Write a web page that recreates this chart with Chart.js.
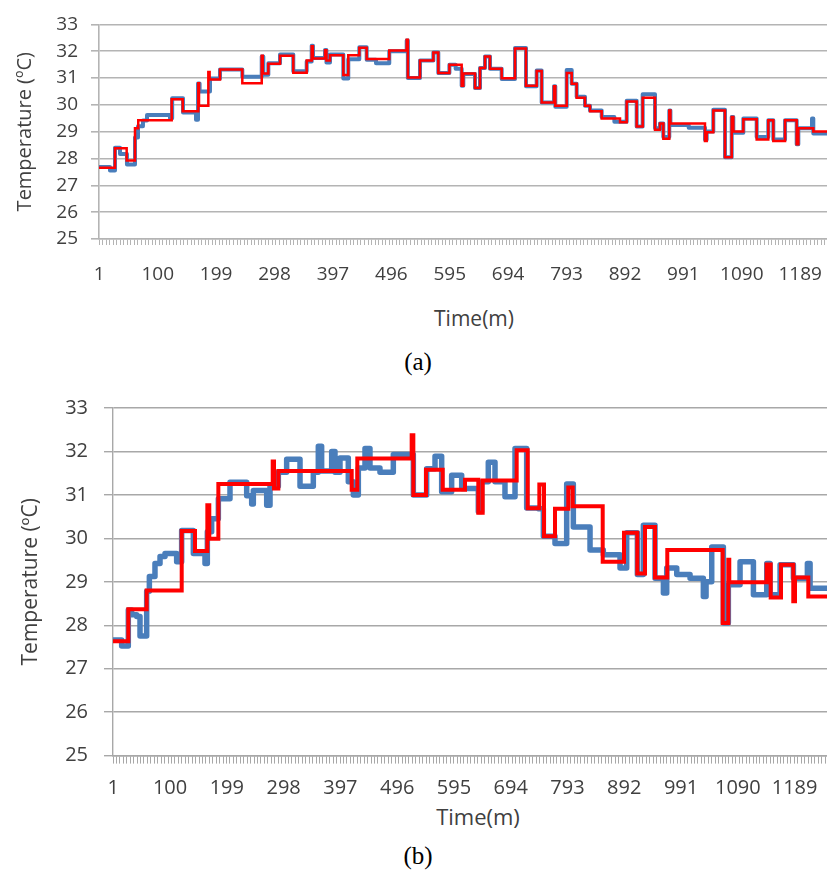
<!DOCTYPE html>
<html>
<head>
<meta charset="utf-8">
<script src="https://cdn.jsdelivr.net/npm/chart.js@4.4.1/dist/chart.umd.min.js"></script>
<style>
  html, body { margin: 0; padding: 0; background: #fff; }
  body { width: 827px; height: 872px; position: relative; overflow: hidden; }
  canvas { position: absolute; left: 0; }
  .xt { position: absolute; font-family: 'Open Sans'; color: #404040; transform: translate(-50%, -50%); white-space: nowrap; }
  .cap { position: absolute; font-family: 'Liberation Serif'; color: #000; transform: translate(-50%, -50%); }
</style>
</head>
<body>
<canvas id="chartA" width="827" height="300" style="top:0"></canvas>
<div class="xt" style="left:474px;top:318px;font-size:21px">Time(m)</div>
<div class="cap" style="left:418px;top:362px;font-size:25px">(a)</div>

<canvas id="chartB" width="827" height="420" style="top:380px"></canvas>
<div class="xt" style="left:478px;top:816px;font-size:22px">Time(m)</div>
<div class="cap" style="left:418px;top:856px;font-size:25px">(b)</div>

<script>
// ---------------------------- data (minute, °C) ----------------------------
// category labels shown on the time axis
const labelCats = [1, 100, 199, 298, 397, 496, 595, 694, 793, 892, 991, 1090, 1189]
const yMin = 25
const yMax = 33

// (a) measured (blue) and fitted step (red)
const blueA = [[0.5,27.68],[19.1,27.55],[27.6,28.4],[36.1,28.17],[47.9,27.78],[61.5,28.78],[66.6,29.2],[75,29.42],[81.9,29.62],[120.8,29.5],[124.5,30.25],[142.9,29.72],[164.9,29.45],[168.3,30.8],[171,30.5],[188.6,30.98],[205.6,31.32],[243.4,31.05],[276.3,31.8],[279,31.12],[287.5,31.55],[307.3,31.88],[329.8,31.25],[352.5,31.62],[361,32.2],[363.2,31.75],[383.6,32.05],[386,31.58],[392,31.88],[414.6,30.98],[423,31.7],[441.7,32.15],[454.2,31.68],[470,31.55],[492.5,32.0],[522,32.4],[524,31.0],[544.6,31.65],[567.2,31.95],[575.6,31.19],[594.4,31.5],[605,31.35],[615.2,30.71],[618,31.15],[637.8,30.63],[646.3,31.37],[654.7,31.8],[663.2,31.35],[683,30.96],[705.6,32.12],[724.2,30.69],[742.3,31.28],[750.8,30.09],[771.7,30.69],[773.9,29.93],[793.2,31.3],[801.7,30.79],[810.1,30.3],[824.2,29.97],[832.7,29.79],[852.5,29.55],[874,29.37],[894.9,30.15],[911.8,29.19],[922,30.4],[942.9,29.13],[951.3,29.31],[957,28.8],[967.1,29.79],[969,29.25],[1000,29.15],[1027.6,28.7],[1030.5,29.01],[1041.7,29.82],[1061.5,28.05],[1072.9,29.55],[1075.6,28.96],[1092.6,29.49],[1115.2,28.8],[1134.9,29.43],[1143.4,28.71],[1163.3,29.43],[1183,28.53],[1185.8,29.13],[1209,29.49],[1211.2,28.93],[1234.4,28.93]]
const redA = [[0.5,27.66],[27.6,28.38],[47.4,27.93],[61.5,29.13],[67,29.43],[123.7,30.21],[142.4,29.76],[168.8,30.81],[170,29.97],[185.8,31.23],[188,30.95],[205.6,31.32],[243.4,30.81],[276.3,31.83],[278,31.17],[287.5,31.53],[307.3,31.83],[329.8,31.2],[352.5,31.65],[361,32.19],[363,31.73],[383.6,32.04],[386,31.65],[392,31.85],[414.6,31.11],[423,31.85],[441.7,32.13],[454.2,31.71],[492.5,32.03],[522,32.43],[524,31.02],[544.6,31.65],[567.2,31.95],[575.6,31.19],[594.4,31.5],[615.2,30.71],[618,31.17],[637.8,30.63],[646.3,31.37],[654.7,31.8],[663.2,31.35],[683,30.99],[705.6,32.1],[724.2,30.71],[742.3,31.26],[750.8,30.09],[771.7,30.69],[773.9,29.97],[793.2,31.19],[801.7,30.79],[810.1,30.27],[824.2,29.97],[832.7,29.76],[852.5,29.49],[883.6,29.35],[894.9,30.13],[911.8,29.19],[922,30.27],[942.9,29.07],[951.3,29.31],[957,28.74],[967.1,29.79],[969,29.31],[1027.6,28.65],[1030.5,28.98],[1041.7,29.79],[1061.5,28.05],[1072.9,29.55],[1075.6,29.01],[1092.6,29.46],[1115.2,28.71],[1134.9,29.43],[1143.4,28.65],[1163.3,29.43],[1183,28.53],[1185.8,29.13],[1211.2,29.01],[1234.4,29.01]]

// (b) measured (blue) and fitted step (red)
const blueB = [[0.5,27.66],[15.6,27.52],[27.2,28.35],[33,28.24],[41.8,28.2],[47.6,27.75],[59.2,28.78],[63.9,29.12],[73.7,29.42],[82.5,29.58],[91.2,29.65],[111.5,29.46],[120.2,30.18],[140.6,29.65],[160.9,29.42],[165,30.15],[172.5,30.45],[184.2,30.91],[204.5,31.29],[233.6,30.98],[242.3,30.79],[245.2,31.1],[268.5,30.76],[274.3,31.2],[288.8,31.52],[303.3,31.82],[326.6,31.2],[349.8,31.52],[358.5,32.12],[364.3,31.55],[381.8,32.0],[387.6,31.52],[396.3,31.85],[410.8,31.3],[419.6,31.0],[428.3,31.62],[439.9,32.07],[448.6,31.62],[466,31.52],[489.3,31.93],[524.2,31.0],[547.4,31.6],[562,31.89],[573.6,31.07],[591,31.45],[608.5,31.15],[637.5,30.62],[643.3,31.3],[654.9,31.75],[666.6,31.3],[684,30.96],[701.5,32.07],[721.8,30.7],[742.1,30.68],[750.9,30.05],[771.2,29.88],[791.6,31.25],[803.2,30.26],[832.3,29.73],[855.5,29.62],[884.6,29.32],[896.2,30.13],[914.8,29.17],[925.3,30.3],[945.6,29.08],[960.2,28.74],[966,29.32],[983.5,29.17],[1006.7,29.08],[1029.9,28.66],[1034.6,29.0],[1044.5,29.8],[1064.8,28.05],[1073.5,28.93],[1093.9,29.46],[1117.2,28.7],[1140.4,29.42],[1146.2,28.7],[1163.7,29.39],[1186.9,29.08],[1211.3,29.42],[1216,28.85],[1245.5,28.85]]
const redB = [[0.5,27.63],[27.2,28.37],[59.2,28.8],[120.3,30.17],[143.5,29.71],[165,30.76],[168.4,29.99],[184.2,31.25],[279,31.77],[281.2,31.15],[288.8,31.55],[416.7,31.12],[426.5,31.84],[521.3,32.37],[524.2,31.0],[546.3,31.58],[575.4,31.12],[614.3,31.35],[637.5,30.59],[645.1,31.33],[704.4,32.03],[723.6,30.69],[743.9,31.24],[752,30.05],[771.2,30.68],[794.4,31.17],[802.1,30.74],[854.4,29.46],[891.5,30.13],[914.7,29.19],[928.1,30.26],[945.6,29.1],[967,29.73],[1063.6,28.05],[1073.4,29.51],[1075.1,28.99],[1140.3,29.4],[1147.3,28.64],[1165.3,29.39],[1186.7,28.55],[1189.7,29.1],[1212.9,28.66],[1245.5,28.66]]

// ---------------------------- chart builder ----------------------------
const TEXT = '#404040'
const FONT = "'Open Sans'"
const TICK_EVERY = 6   // minor tick marks on the time axis

const toXY = (arr) => arr.map(([x, y]) => ({ x, y }))

function makeChart(id, s) {
  new Chart(document.getElementById(id), {
    type: 'line',
    data: {
      datasets: [
        { data: toXY(s.red), borderColor: '#ff0000', borderWidth: s.redW, stepped: true, pointRadius: 0, order: 0, borderJoinStyle: 'miter' },
        { data: toXY(s.blue), borderColor: '#4a7ebb', borderWidth: s.blueW, stepped: true, pointRadius: 0, order: 1, borderJoinStyle: 'round' },
      ],
    },
    options: {
      responsive: false, animation: false, events: [],
      layout: { padding: { top: s.top, left: 0, right: 0, bottom: 0 } },
      plugins: { legend: { display: false }, tooltip: { enabled: false } },
      scales: {
        x: {
          type: 'linear', min: 0.5, max: s.xMax,
          border: { display: true, color: s.grid, width: s.gridW },
          grid: {
            drawOnChartArea: false, drawTicks: true, tickLength: s.xTickLen, tickWidth: 1,
            tickColor: (c) => (c.tick && labelCats.includes(c.tick.value) ? 'rgba(0,0,0,0)' : s.grid),
          },
          ticks: {
            autoSkip: false, maxRotation: 0, minRotation: 0, padding: s.xPad,
            color: TEXT, font: { family: FONT, size: s.tickSize },
            callback: (v) => (labelCats.includes(v) ? String(v) : ''),
          },
          afterBuildTicks: (sc) => {
            const ticks = []
            for (let v = 0.5; v <= s.xMax; v += TICK_EVERY) ticks.push({ value: v })
            labelCats.forEach((v) => ticks.push({ value: v }))
            ticks.sort((a, b) => a.value - b.value)
            sc.ticks = ticks
          },
          // plot runs right to the page edge (the original is cut there)
          afterFit: (sc) => { sc.height = s.xH; sc.paddingRight = 0; sc.paddingLeft = 0 },
        },
        y: {
          min: yMin, max: yMax,
          border: { display: true, color: s.grid, width: s.gridW },
          grid: { color: s.grid, lineWidth: s.gridW, tickLength: s.yTickLen },
          ticks: { stepSize: 1, padding: s.yPad, color: TEXT, font: { family: FONT, size: s.tickSize } },
          title: { display: true, text: 'Temperature (ºC)', color: TEXT, font: { family: FONT, size: s.titleSize }, padding: { top: s.titlePad, bottom: 0 } },
          afterFit: (sc) => { sc.width = s.yW },
        },
      },
    },
  })
}

// (a) plot: left 99, top 16, bottom 239
makeChart('chartA', {
  red: redA, blue: blueA, redW: 2.5, blueW: 4,
  top: 16, xMax: 1234.4, xH: 61, yW: 99,
  grid: '#b4b4b4', gridW: 1.6, xTickLen: 6, yTickLen: 8,
  xPad: 18, yPad: 13, tickSize: 19, titleSize: 20, titlePad: 13,
})

// (b) plot: left 113, top 405, bottom 756
makeChart('chartB', {
  red: redB, blue: blueB, redW: 4, blueW: 5.5,
  top: 25, xMax: 1245.5, xH: 44.4, yW: 113,
  grid: '#a8a8a8', gridW: 1.4, xTickLen: 8, yTickLen: 9,
  xPad: 13, yPad: 16, tickSize: 20, titleSize: 21, titlePad: 18,
})
</script>
</body>
</html>
